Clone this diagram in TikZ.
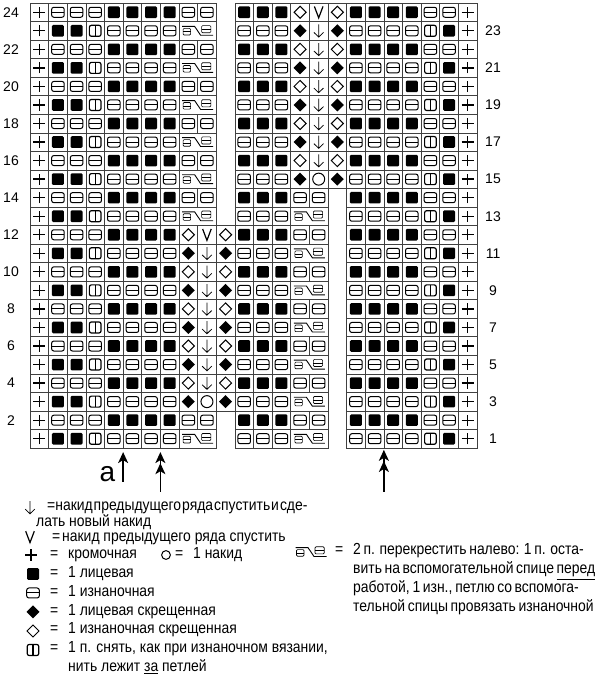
\documentclass[tikz,border=0pt]{standalone}
\usepackage{fontspec}
\setmainfont{Liberation Sans}
\newfontfamily\legendfont[FakeStretch=0.87]{Liberation Sans}
\usetikzlibrary{arrows.meta}
\newcommand{\syme}[1]{%
  \begin{scope}[shift={(#1)},x=1pt,y=1pt]
    \draw[line width=1.3pt] (-6,0) -- (6,0) (0,-5.6) -- (0,5.6);
  \end{scope}}
\newcommand{\symk}[1]{%
  \begin{scope}[shift={(#1)},x=1pt,y=1pt]
    \fill[rounded corners=1.2pt] (-6,-5.8) rectangle (6,5.8);
  \end{scope}}
\newcommand{\symp}[1]{%
  \begin{scope}[shift={(#1)},x=1pt,y=1pt]
    \draw[line width=1pt,rounded corners=2.2pt] (-6.3,-5) rectangle (6.3,5);
    \draw[line width=1pt] (-6.3,0) -- (6.3,0);
  \end{scope}}
\newcommand{\syms}[1]{%
  \begin{scope}[shift={(#1)},x=1pt,y=1pt]
    \draw[line width=1.2pt,rounded corners=2pt] (-5.8,-5.5) rectangle (5.8,5.5);
    \draw[line width=1.2pt] (0,-5.5) -- (0,5.5);
  \end{scope}}
\newcommand{\symf}[1]{%
  \begin{scope}[shift={(#1)},x=1pt,y=1pt]
    \fill (0,6.5) -- (6.5,0) -- (0,-6.5) -- (-6.5,0) -- cycle;
  \end{scope}}
\newcommand{\symo}[1]{%
  \begin{scope}[shift={(#1)},x=1pt,y=1pt]
    \draw[line width=1pt] (0,6) -- (6,0) -- (0,-6) -- (-6,0) -- cycle;
  \end{scope}}
\newcommand{\symd}[1]{%
  \begin{scope}[shift={(#1)},x=1pt,y=1pt]
    \draw[line width=0.75pt] (0,6.3) -- (0,-6.3) (-4.8,-1.6) -- (0,-6.3) -- (4.8,-1.6);
  \end{scope}}
\newcommand{\symv}[1]{%
  \begin{scope}[shift={(#1)},x=1pt,y=1pt]
    \draw[line width=1.2pt] (-4.3,5.8) -- (0,-5.6) -- (4.3,5.8);
  \end{scope}}
\newcommand{\symy}[1]{%
  \begin{scope}[shift={(#1)},x=1pt,y=1pt]
    \draw[line width=1pt] (0,0) circle (6);
  \end{scope}}
\newcommand{\symx}[1]{%
  \begin{scope}[shift={(#1)},x=1pt,y=1pt]
    \draw[line width=0.9pt] (-15.5,4.4) -- (-3,4.4) -- (3,-4.5) -- (15.5,-4.5);
    \draw[line width=0.65pt,rounded corners=1pt] (-14.5,-4.2) rectangle (-7,2.4);
    \draw[line width=0.65pt] (-14.5,-0.9) -- (-7,-0.9);
    \draw[line width=0.65pt,rounded corners=1pt] (4,-1.9) rectangle (13.2,5.2);
    \draw[line width=0.65pt] (4,1.65) -- (13.2,1.65);
  \end{scope}}
\newcommand{\knitcell}[3]{%
  \if#3g\else\if#3n\else
    \if#3x
      \draw[cellbox] (#1-1,#2-1) rectangle (#1+1,#2);
      \symx{#1,#2-0.5}
    \else
      \draw[cellbox] (#1-1,#2-1) rectangle (#1,#2);
      \csname sym#3\endcsname{#1-0.5,#2-0.5}
    \fi
  \fi\fi}
\newcommand{\chartrow}[2]{%
  \foreach \s [count=\c] in {#2} {\knitcell{\c}{#1}{\s}}}

\begin{document}
\begin{tikzpicture}[x=1pt,y=1pt,
  cellbox/.style={draw=black!75,line width=0.55pt},
  rownum/.style={font=\fontsize{14}{14}\selectfont,inner sep=0pt},
  legtext/.style={anchor=base west,inner sep=0pt,font=\legendfont\fontsize{16}{18}\selectfont},
  uparrow/.style={line width=1.6pt,-{Stealth[length=11pt,width=10pt,inset=3pt]}}]
  \useasboundingbox (0,0) rectangle (595,690);
  \begin{scope}[shift={(30,242)},x=18.625pt,y=18.542pt]
    \foreach \r in {1,13} {\chartrow{\r}{e,k,k,s,p,p,p,p,x,n,g,p,p,p,x,n,g,p,p,p,p,s,k,e}}
    \foreach \r in {2,14} {\chartrow{\r}{e,p,p,p,k,k,k,k,p,p,g,k,k,k,p,p,g,k,k,k,k,p,p,e}}
    \chartrow{3}{e,k,k,s,p,p,p,p,f,y,f,p,p,p,x,n,g,p,p,p,p,s,k,e}
    \foreach \r in {5,7,9,11} {\chartrow{\r}{e,k,k,s,p,p,p,p,f,d,f,p,p,p,x,n,g,p,p,p,p,s,k,e}}
    \foreach \r in {4,6,8,10} {\chartrow{\r}{e,p,p,p,k,k,k,k,o,d,o,k,k,k,p,p,g,k,k,k,k,p,p,e}}
    \chartrow{12}{e,p,p,p,k,k,k,k,o,v,o,k,k,k,p,p,g,k,k,k,k,p,p,e}
    \chartrow{15}{e,k,k,s,p,p,p,p,x,n,g,p,p,p,f,y,f,p,p,p,p,s,k,e}
    \foreach \r in {17,19,21,23} {\chartrow{\r}{e,k,k,s,p,p,p,p,x,n,g,p,p,p,f,d,f,p,p,p,p,s,k,e}}
    \foreach \r in {16,18,20,22} {\chartrow{\r}{e,p,p,p,k,k,k,k,p,p,g,k,k,k,o,d,o,k,k,k,k,p,p,e}}
    \chartrow{24}{e,p,p,p,k,k,k,k,p,p,g,k,k,k,o,v,o,k,k,k,k,p,p,e}
    \foreach \r in {2,4,...,24} {\node[rownum] (left\r) at (-1.02,\r-0.5) {\r};}
    \foreach \r in {1,3,...,23} {\node[rownum] (right\r) at (24.86,\r-0.5) {\r};}
    \coordinate (tipA) at (5,-0.22);
    \coordinate (tailA) at (5,-1.83);
    \coordinate (tipB) at (7,-0.22);
    \coordinate (midB) at (7,-0.82);
    \coordinate (tailB) at (7,-2.37);
    \coordinate (tipC) at (19,-0.1);
    \coordinate (midC) at (19,-0.7);
    \coordinate (tailC) at (19,-2.37);
  \end{scope}
  \draw[uparrow] (tailA) -- (tipA);
  \draw[uparrow] (tailB) -- (tipB);
  \draw[uparrow] (tailB) -- (midB);
  \draw[uparrow] (tailC) -- (tipC);
  \draw[uparrow] (tailC) -- (midC);
  \node[font=\fontsize{28}{28}\selectfont,anchor=base,inner sep=0pt] (lblA) at (107.5,208) {a};

  \symd{30,182.5}
  \node[legtext] (descA) at (47,179) {\spaceskip=1pt\relax =накид предыдущего ряда спустить и сде-};
  \node[legtext] (descB) at (36,163) {лать новый накид};
  \symv{30,153}
  \node[legtext] (eqV) at (52,148) {=};
  \node[legtext] (descV) at (62,148) {накид предыдущего ряда спустить};
  \syme{31,135}
  \node[legtext] (eqE) at (50,131) {=};
  \node[legtext] (descE) at (68,131) {кромочная};
  \draw[line width=1pt] (166,135) circle (4.4);
  \node[legtext] (eqY) at (175,131) {=};
  \node[legtext] (descY) at (193,131) {1 накид};
  \symk{33,116}
  \node[legtext] (eqK) at (50,112) {=};
  \node[legtext] (descK) at (68,112) {1 лицевая};
  \symp{33,97}
  \node[legtext] (eqP) at (50,93) {=};
  \node[legtext] (descP) at (68,93) {1 изнаночная};
  \symf{33,78}
  \node[legtext] (eqF) at (50,74) {=};
  \node[legtext] (descF) at (68,74) {1 лицевая скрещенная};
  \symo{33,59}
  \node[legtext] (eqO) at (50,56) {=};
  \node[legtext] (descO) at (68,56) {1 изнаночная скрещенная};
  \syms{33,40}
  \node[legtext] (eqS) at (50,37) {=};
  \node[legtext] (descS) at (68,37) {1 п. снять, как при изнаночном вязании,};
  \node[legtext] (descS2) at (68,18) {нить лежит \underline{за} петлей};

  \symx{311,138}
  \node[legtext] (eqX) at (335,135) {=};
  \node[legtext] (descX) at (353,135) {\makebox[224pt][s]{2 п. перекрестить налево: 1 п. оста-}};
  \node[legtext] (descX2) at (353,116) {\makebox[224pt][s]{вить на вспомогательной спице \underline{перед}}};
  \node[legtext] (descX3) at (353,97) {\makebox[224pt][s]{работой, 1 изн., петлю со вспомога-}};
  \node[legtext] (descX4) at (353,78) {\makebox[224pt][s]{тельной спицы провязать изнаночной}};
\end{tikzpicture}
\end{document}
